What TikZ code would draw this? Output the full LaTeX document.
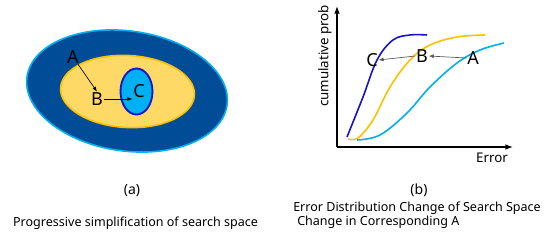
\documentclass[tikz,border=0pt]{standalone}
\usepackage{fontspec}
\setmainfont{Noto Sans}
\usetikzlibrary{arrows.meta}
\definecolor{navy}{HTML}{004C97}
\definecolor{sky}{HTML}{00B0F0}
\definecolor{sand}{HTML}{FFD966}
\definecolor{amber}{HTML}{FFC000}
\definecolor{royal}{HTML}{1414C8}
\definecolor{muted}{HTML}{555555}

\begin{document}
\begin{tikzpicture}[x=0.75pt,y=-0.75pt,
  lbl/.style={inner sep=0.5pt,font=\fontsize{13.5}{15}\selectfont},
  captxt/.style={inner sep=0pt,font=\fontsize{9.4}{10.6}\selectfont},
  axlbl/.style={inner sep=0pt,font=\fontsize{10}{12}\selectfont},
  axis/.style={line width=0.9pt,-{Latex[length=2mm,width=1.5mm]}},
  curve/.style={line width=1.2pt,smooth,tension=0.6},
  >={Latex[length=1.3mm,width=1mm]}]
\useasboundingbox (0,0) rectangle (550,241);

% (a) nested search spaces
\draw[sky,line width=1.2pt,fill=navy,shift={(127,91)},rotate=-8] (0,0) ellipse [x radius=101, y radius=60];
\draw[amber,line width=1.2pt,fill=sand,shift={(127.5,91.5)},rotate=-3] (0,0) ellipse [x radius=67, y radius=36];
\draw[royal,line width=1.4pt,fill=sky] (136.5,91.5) ellipse [x radius=16, y radius=23];

\node[lbl] (A) at (73,57) {A};
\node[lbl] (B) at (97,99) {B};
\node[lbl] (C) at (139,91) {C};
\draw[->,line width=0.5pt] (A) -- (B.north);
\draw[->,line width=0.5pt] (B.east) -- (B.east -| C.west);

\node[font=\fontsize{10.5}{12}\selectfont] (capa) at (132,191) {(a)};
\node[captxt] (texta) at (135.5,223) {Progressive simplification of search space};

% (b) error distributions
\coordinate (o) at (337,147);
\coordinate (ytop) at (337,6);
\coordinate (xend) at (513,147);
\draw[axis] (o) -- (ytop);
\draw[axis] (o) -- (xend);

\draw[curve,royal] plot coordinates {(347,137) (363,97) (377,60) (393,40) (410,35) (427,35)};
\draw[curve,amber] plot coordinates {(348,139) (358,138) (373,120) (390,87) (410,60) (430,45) (457,37) (485,35)};
\draw[curve,sky] plot coordinates {(357,140) (380,135) (407,113) (430,87) (457,63) (480,50) (504,43)};

\node[lbl] (rC) at (372,60) {C};
\node[lbl] (rB) at (422,56) {B};
\node[lbl] (rA) at (473,58) {A};
\draw[->,muted,line width=0.5pt] (rA.west) -- (rB.east);
\draw[->,muted,line width=0.5pt] (rB.west) -- (rC.east);

\node[axlbl,rotate=90] (ylab) at (325,56) {cumulative prob};
\node[axlbl] (xlab) at (492,158) {Error};

\node[font=\fontsize{10.5}{12}\selectfont] (capb) at (419,190) {(b)};
\node[captxt,align=left,anchor=north west] (textb) at (293,202) {Error Distribution Change of Search Space\\\hspace*{3pt}Change in Corresponding A};
\end{tikzpicture}
\end{document}
